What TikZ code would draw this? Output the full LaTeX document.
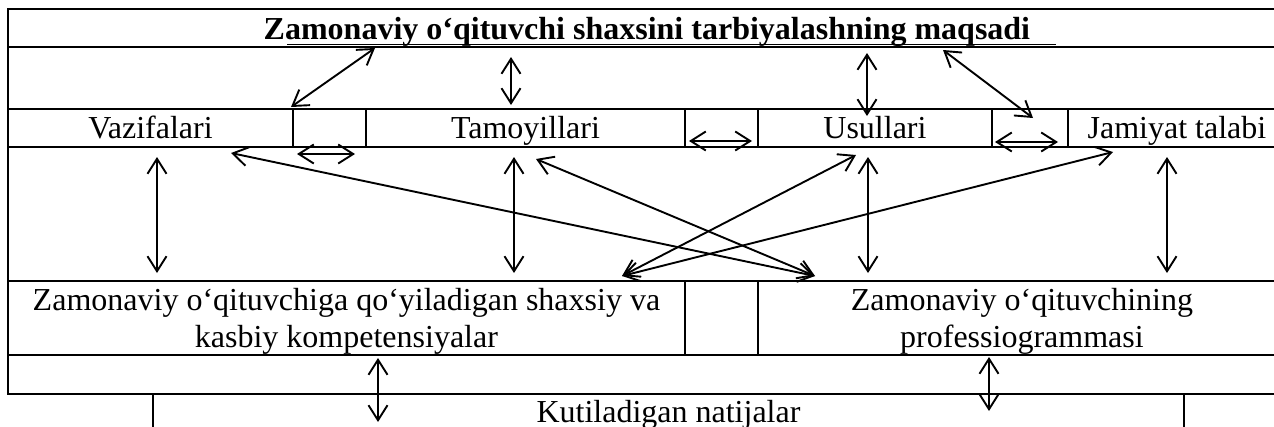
\documentclass[tikz,border=0pt]{standalone}
\usepackage{fontspec}
\setmainfont{Liberation Serif}
\usetikzlibrary{arrows.meta}

\begin{document}
\begin{tikzpicture}[x=1pt, y=-1pt, line width=1.9pt,
 every node/.style = {shape=rectangle, draw, anchor=north west, inner sep=0pt, align=center, font=\fontsize{32}{37}\selectfont},
 qator/.style = {text height=30pt, text depth=8pt},
 ikki/.style = {text height=67pt, text depth=7pt},
 butun/.style = {minimum width=1278pt},
 link/.style = {<->, >={Straight Barb[length=15pt,width=19pt]}}]
\useasboundingbox (0,0) rectangle (1274,426);
\clip (0,0) rectangle (1274,426);
% jadval
\node[butun, text height=31pt, text depth=7pt, font=\fontsize{32}{37}\selectfont\bfseries] (maqsad) at (7,8) {Zamonaviy o‘qituvchi shaxsini tarbiyalashning maqsadi};
\draw (287,44.5) -- (1056,44.5);
\node[butun, minimum height=62pt] (oraliq1) at (7,46) {};
\node[qator, minimum width=285pt] (vazifa) at (7,108) {Vazifalari};
\node[qator, minimum width=73pt] (bo1) at (292,108) {};
\node[qator, minimum width=319pt] (tamoyil) at (365,108) {Tamoyillari};
\node[qator, minimum width=73pt] (bo2) at (684,108) {};
\node[qator, minimum width=234pt] (usul) at (757,108) {Usullari};
\node[qator, minimum width=76pt] (bo3) at (991,108) {};
\node[qator, minimum width=218pt] (jamiyat) at (1067,108) {Jamiyat talabi};
\node[butun, minimum height=134pt] (oraliq2) at (7,146) {};
\node[ikki, minimum width=677pt] (kompetensiya) at (7,280) {Zamonaviy o‘qituvchiga qo‘yiladigan shaxsiy va\\kasbiy kompetensiyalar};
\node[ikki, minimum width=73pt] (bo4) at (684,280) {};
\node[ikki, minimum width=528pt] (professiogramma) at (757,280) {Zamonaviy o‘qituvchining\\professiogrammasi};
\node[butun, minimum height=39pt] (oraliq3) at (7,354) {};
\node[text height=29pt, text depth=21pt, minimum width=1031pt] (natija) at (152,393) {Kutiladigan natijalar};
\node[text height=29pt, text depth=21pt, minimum width=102pt] (bo5) at (1183,393) {};

% strelkalar uchlari
\coordinate (mq1) at (375,48);  \coordinate (vz0) at (291,107);
\coordinate (mq2) at (511,57);  \coordinate (tm0) at (511,105);
\coordinate (mq3) at (867,53);  \coordinate (us0) at (867,116);
\coordinate (mq4) at (943,50);  \coordinate (jm0) at (1033,118);
\coordinate (h1a) at (297,154); \coordinate (h1b) at (355,154);
\coordinate (h2a) at (689,141); \coordinate (h2b) at (752,141);
\coordinate (h3a) at (995,142); \coordinate (h3b) at (1058,142);
\coordinate (vz1) at (231,153); \coordinate (tm1) at (536,159);
\coordinate (us1) at (856,155); \coordinate (jm1) at (1113,152);
\coordinate (kp1) at (622,276); \coordinate (pf1) at (815,276);
\coordinate (kp2) at (378,358); \coordinate (nt1) at (378,422);
\coordinate (pf2) at (989,357); \coordinate (nt2) at (989,411);

\draw[link] (mq1) -- (vz0);
\draw[link] (mq2) -- (tm0);
\draw[link] (mq3) -- (us0);
\draw[link] (mq4) -- (jm0);
\draw[link] (h1a) -- (h1b);
\draw[link] (h2a) -- (h2b);
\draw[link] (h3a) -- (h3b);
\foreach \n/\x in {1/157,2/514,3/868,4/1167} {
 \coordinate (yu\n) at (\x,157); \coordinate (pa\n) at (\x,273);
 \draw[link] (yu\n) -- (pa\n);
}
\draw[link] (vz1) -- (pf1);
\draw[link] (tm1) -- (pf1);
\draw[link] (us1) -- (kp1);
\draw[link] (jm1) -- (kp1);
\draw[link] (kp2) -- (nt1);
\draw[link] (pf2) -- (nt2);
\end{tikzpicture}
\end{document}
